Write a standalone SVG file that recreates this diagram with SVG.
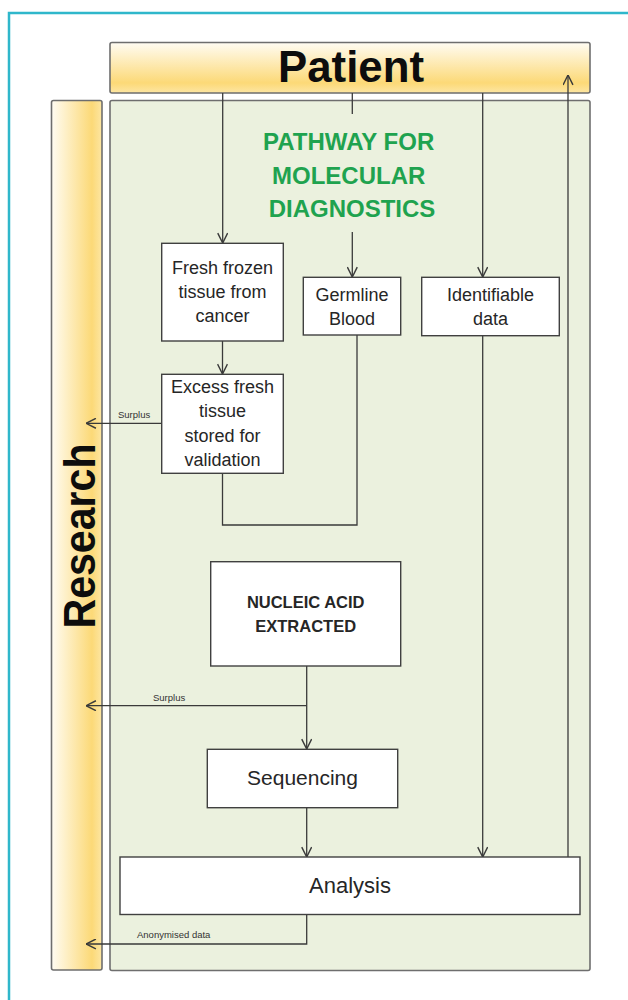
<svg xmlns="http://www.w3.org/2000/svg" width="628" height="1000" viewBox="0 0 628 1000">
<style>
.lbl{font-family:"Liberation Sans",Arial,sans-serif;fill:#262626;text-anchor:middle}
.box{fill:#ffffff;stroke:#404040;stroke-width:1.4}
.band{stroke:#6e6e6e;stroke-width:1.6}
.con{fill:none;stroke:#3a3a3a;stroke-width:1.3}
.small{font-family:"Liberation Sans",Arial,sans-serif;font-size:9.5px;fill:#333}
</style>
<defs>
<linearGradient id="gPat" x1="0" y1="0" x2="0" y2="1">
<stop offset="0" stop-color="#fffcf3"/>
<stop offset="0.8" stop-color="#fcd977"/>
<stop offset="1" stop-color="#fde6a3"/>
</linearGradient>
<linearGradient id="gRes" x1="0" y1="0" x2="1" y2="0">
<stop offset="0" stop-color="#fffcf3"/>
<stop offset="0.8" stop-color="#fcd977"/>
<stop offset="1" stop-color="#fde6a3"/>
</linearGradient>
<marker id="ah" viewBox="0 0 10 10" refX="10" refY="5" markerWidth="11" markerHeight="11" markerUnits="userSpaceOnUse" orient="auto">
<path d="M1,0.5 L10,5 L1,9.5" fill="none" stroke="#3a3a3a" stroke-width="1.3"/>
</marker>
</defs>
<rect x="0" y="0" width="628" height="1000" fill="#ffffff"/>
<rect x="9" y="13" width="640" height="1000" fill="none" stroke="#2fb7cb" stroke-width="2.5"/>

<g id="patient">
<rect class="band" x="110" y="42.5" width="480" height="50.5" rx="2" fill="url(#gPat)"/>
<text x="351" y="82" font-family="Liberation Sans,Arial,sans-serif" font-weight="bold" font-size="44" text-anchor="middle" fill="#0d0d0d" textLength="146" lengthAdjust="spacingAndGlyphs">Patient</text>
</g>

<g id="research">
<rect class="band" x="51.5" y="100.5" width="50.5" height="869.5" rx="2" fill="url(#gRes)"/>
<text transform="translate(95,536) rotate(-90)" x="0" y="0" font-family="Liberation Sans,Arial,sans-serif" font-weight="bold" font-size="45" text-anchor="middle" fill="#0d0d0d" textLength="185" lengthAdjust="spacingAndGlyphs">Research</text>
</g>

<g id="panel">
<rect class="band" x="110" y="100.5" width="480" height="870" rx="2" fill="#ebf1de"/>
</g>

<g id="title">
<text font-family="Liberation Sans,Arial,sans-serif" font-weight="bold" font-size="24" text-anchor="middle" fill="#1fa34f">
<tspan x="352" y="150">PATHWAY FOR</tspan>
<tspan x="352" y="184">MOLECULAR</tspan>
<tspan x="352" y="217">DIAGNOSTICS</tspan>
</text>
</g>

<g id="connectors">
<path class="con" d="M222.7,93 V243" marker-end="url(#ah)"/>
<path class="con" d="M352.3,93 V114"/>
<path class="con" d="M352.3,232 V277" marker-end="url(#ah)"/>
<path class="con" d="M482.7,93 V277" marker-end="url(#ah)"/>
<path class="con" d="M222.5,341 V374" marker-end="url(#ah)"/>
<path class="con" d="M162,423.3 H86" marker-end="url(#ah)"/>
<path class="con" d="M222.5,473 V525 H357 V335"/>
<path class="con" d="M306.7,666 V749" marker-end="url(#ah)"/>
<path class="con" d="M306.7,705.7 H86" marker-end="url(#ah)"/>
<path class="con" d="M306.7,808 V857" marker-end="url(#ah)"/>
<path class="con" d="M482.7,336 V857" marker-end="url(#ah)"/>
<path class="con" d="M568,857 V75" marker-end="url(#ah)"/>
<path class="con" d="M306.7,914 V944 H86" marker-end="url(#ah)"/>
<text class="small" x="118" y="418">Surplus</text>
<text class="small" x="153" y="701">Surplus</text>
<text class="small" x="137" y="938">Anonymised data</text>
</g>

<g id="fresh-frozen">
<rect class="box" x="161.7" y="243.3" width="121.6" height="97.7"/>
<text class="lbl" font-size="18"><tspan x="222.5" y="274">Fresh frozen</tspan><tspan x="222.5" y="298">tissue from</tspan><tspan x="222.5" y="322">cancer</tspan></text>
</g>

<g id="germline">
<rect class="box" x="303.3" y="277.3" width="97.4" height="57.7"/>
<text class="lbl" font-size="18"><tspan x="352" y="301">Germline</tspan><tspan x="352" y="325">Blood</tspan></text>
</g>

<g id="identifiable">
<rect class="box" x="421.7" y="277.3" width="137.6" height="58.4"/>
<text class="lbl" font-size="18"><tspan x="490.5" y="301">Identifiable</tspan><tspan x="490.5" y="325">data</tspan></text>
</g>

<g id="excess">
<rect class="box" x="161.7" y="374.3" width="121.6" height="99"/>
<text class="lbl" font-size="18"><tspan x="222.5" y="393">Excess fresh</tspan><tspan x="222.5" y="417">tissue</tspan><tspan x="222.5" y="442">stored for</tspan><tspan x="222.5" y="466">validation</tspan></text>
</g>

<g id="nucleic">
<rect class="box" x="210.7" y="561.7" width="190" height="104.3"/>
<text class="lbl" font-size="16.5" font-weight="bold" fill="#1a1a1a"><tspan x="305.7" y="608">NUCLEIC ACID</tspan><tspan x="305.7" y="632">EXTRACTED</tspan></text>
</g>

<g id="sequencing">
<rect class="box" x="207.3" y="749.3" width="190.4" height="58.4"/>
<text class="lbl" font-size="21" x="302.5" y="785">Sequencing</text>
</g>

<g id="analysis">
<rect class="box" x="120" y="857" width="460" height="57.5"/>
<text class="lbl" font-size="22" x="350" y="893">Analysis</text>
</g>
</svg>
